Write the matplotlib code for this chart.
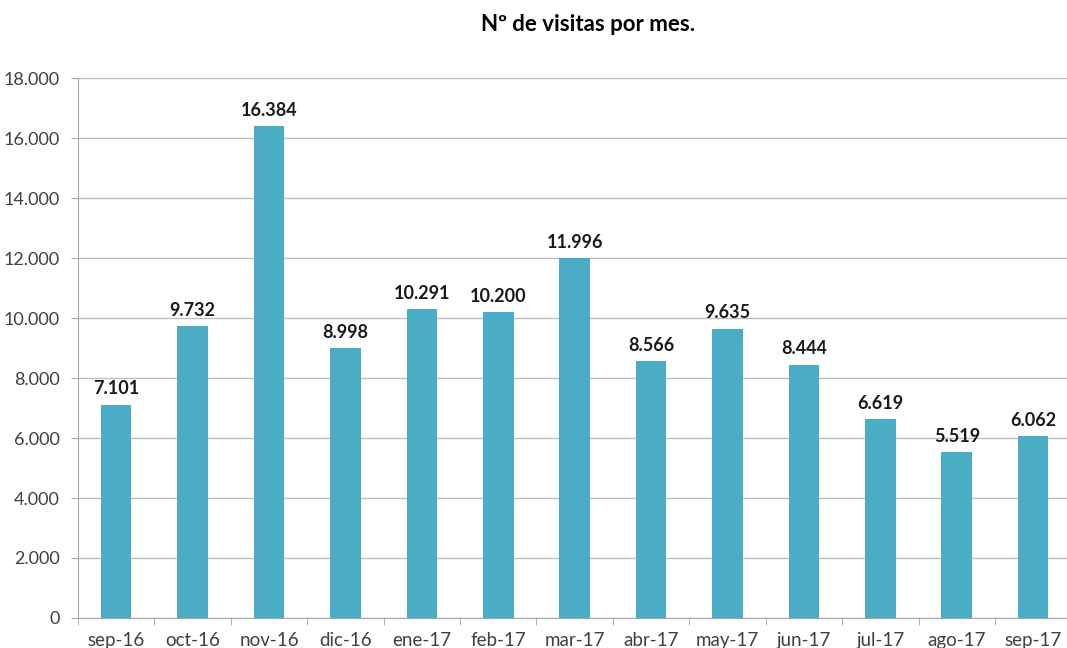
import matplotlib.pyplot as plt
import numpy as np

meses = ['sep-16', 'oct-16', 'nov-16', 'dic-16', 'ene-17', 'feb-17', 'mar-17',
         'abr-17', 'may-17', 'jun-17', 'jul-17', 'ago-17', 'sep-17']
visitas = [7101, 9732, 16384, 8998, 10291, 10200, 11996,
           8566, 9635, 8444, 6619, 5519, 6062]
yticks = list(range(0, 18001, 2000))

def fmt(v):
    return f'{v:,}'.replace(',', '.')

plt.rcParams['font.family'] = ['Lato', 'DejaVu Sans']

fig = plt.figure(figsize=(10.67, 6.48), dpi=100)
ax = fig.add_axes([0.0731, 0.0463, 0.931, 0.8333])

x = np.arange(len(meses))
ax.bar(x, visitas, width=0.4, color='#4BACC6', zorder=3)

for xi, v in zip(x, visitas):
    ax.text(xi, v + 250, fmt(v), ha='center', va='bottom',
            fontsize=13, fontweight='bold', color='#1a1a1a')

ax.set_xlim(-0.5, len(meses) - 0.5)
ax.set_ylim(0, 18000)
ax.set_yticks(yticks)
ax.set_yticklabels([fmt(t) for t in yticks], fontsize=13, color='#404040')
ax.yaxis.grid(True, color='#BFBFBF', linewidth=1, zorder=0)

ax.set_xticks(x)
ax.set_xticklabels(meses, fontsize=13.5, color='#404040')
ax.set_xticks(np.arange(-0.5, len(meses)), minor=True)
ax.tick_params(axis='x', which='major', length=0, pad=10)
ax.tick_params(axis='x', which='minor', length=5, color='#A6A6A6')
ax.tick_params(axis='y', length=5, color='#A6A6A6', pad=8)

for s in ['top', 'right']:
    ax.spines[s].set_visible(False)
for s in ['left', 'bottom']:
    ax.spines[s].set_color('#A6A6A6')

fig.text(0.551, 0.962, 'Nº de visitas por mes.', ha='center', va='center',
         fontsize=16, fontweight='bold')

fig.savefig('out.png', dpi=100)
